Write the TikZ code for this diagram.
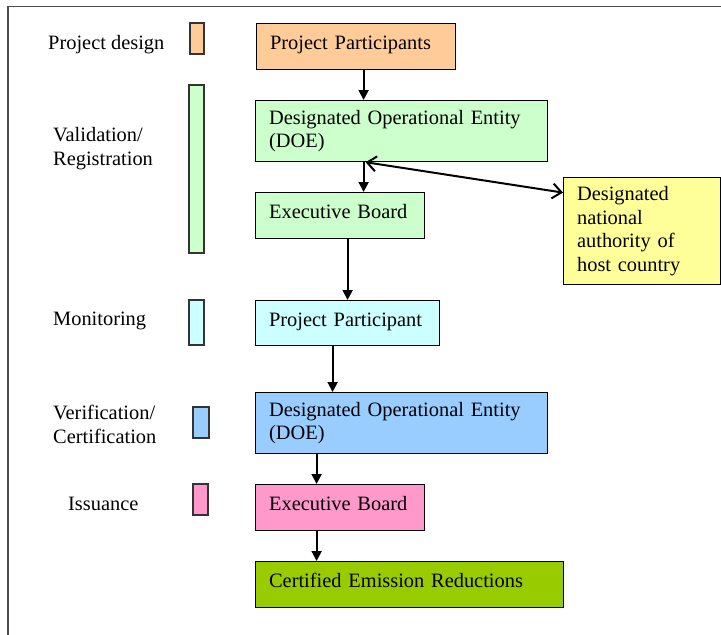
\documentclass[tikz,border=0pt]{standalone}
\usepackage{fontspec}
\setmainfont{Liberation Serif}
\usetikzlibrary{arrows.meta}
\newcommand{\boxline}{1.2pt}
\newcommand{\arrowline}{2pt}
\definecolor{designcol}{HTML}{FFCC99}
\definecolor{validcol}{HTML}{CCFFCC}
\definecolor{monitorcol}{HTML}{CCFFFF}
\definecolor{verifycol}{HTML}{99CCFF}
\definecolor{issuecol}{HTML}{FF99CC}
\definecolor{cercol}{HTML}{99CC00}
\definecolor{dnacol}{HTML}{FFFF99}
\tikzset{
  stage/.style={draw, line width=\boxline, anchor=north west, align=left,
    inner xsep=13.5pt, inner ysep=0pt},
  oneline/.style={text height=14pt, text depth=7.5pt},
  bar/.style={draw=black!80, line width=\boxline},
  phase/.style={anchor=west, align=left, inner sep=0pt},
  flow/.style={line width=\arrowline, -{Triangle[length=10pt,width=10pt]}},
  link/.style={line width=\arrowline,
    {Straight Barb[length=9pt,width=15pt]}-{Straight Barb[length=9pt,width=15pt]}}
}

\begin{document}
\begin{tikzpicture}[x=1pt, y=-1pt, font=\fontsize{20.4}{23.5}\selectfont]
\useasboundingbox (0,0) rectangle (721,635);
% frame
\draw[black!70, line width=1.3pt] (721,6.5) -- (8,6.5) -- (8,635);
% phases
\node[phase] (p1) at (48,45) {Project design};
\node[phase] (p2) at (53,148.5) {Validation/\\Registration};
\node[phase] (p3) at (53,321) {Monitoring};
\node[phase] (p4) at (53,424.5) {Verification/\\Certification};
\node[phase] (p5) at (68,504) {Issuance};
\draw[bar, fill=designcol] (190,23) rectangle (204,54);
\draw[bar, fill=validcol] (189,85) rectangle (204,253);
\draw[bar, fill=monitorcol] (189,300) rectangle (204,345);
\draw[bar, fill=verifycol] (193,407) rectangle (209,438);
\draw[bar, fill=issuecol] (193,484) rectangle (208,515);
% stages
\node[stage, oneline, fill=designcol, text width=172pt, minimum height=46pt] (1) at (256,23) {Project Participants};
\node[stage, fill=validcol, text width=265pt, minimum height=61pt] (2) at (255,100) {Designated Operational Entity\\(DOE)};
\node[stage, oneline, fill=validcol, text width=142pt, minimum height=46pt] (3) at (255,192) {Executive Board};
\node[stage, fill=dnacol, text width=130pt, minimum height=107pt] (4) at (563,177) {Designated\\national\\authority of\\host country};
\node[stage, oneline, fill=monitorcol, text width=157pt, minimum height=45pt] (5) at (255,300) {Project Participant};
\node[stage, fill=verifycol, text width=265pt, minimum height=61pt] (6) at (255,392) {Designated Operational Entity\\(DOE)};
\node[stage, oneline, fill=issuecol, text width=142pt, minimum height=46pt] (7) at (255,484) {Executive Board};
\node[stage, oneline, fill=cercol, text width=281pt, minimum height=46pt] (8) at (255,561) {Certified Emission Reductions};
% arrows
\draw[flow] ([xshift=7.5pt]1.south) -- ([xshift=7.5pt]1.south |- 2.north);
\draw[flow] ([xshift=-38pt]2.south) -- ([xshift=-38pt]2.south |- 3.north);
\draw[link] ([xshift=-36pt]2.south) -- ([yshift=38.5pt]4.west);
\draw[flow] ([xshift=7.5pt]3.south) -- ([xshift=7.5pt]3.south |- 5.north);
\draw[flow] ([xshift=-15pt]5.south) -- ([xshift=-15pt]5.south |- 6.north);
\draw[flow] ([xshift=-85pt]6.south) -- ([xshift=-85pt]6.south |- 7.north);
\draw[flow] ([xshift=-23.5pt]7.south) -- ([xshift=-23.5pt]7.south |- 8.north);
\end{tikzpicture}
\end{document}
